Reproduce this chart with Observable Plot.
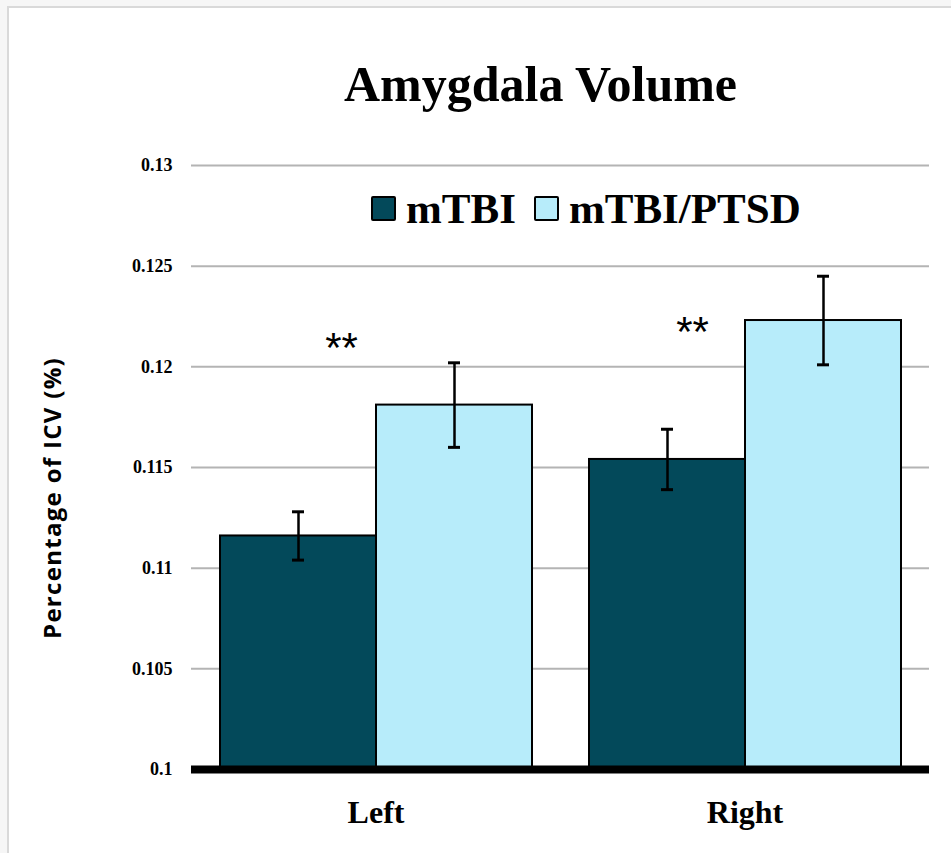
<!DOCTYPE html>
<html>
<head>
<meta charset="utf-8">
<script src="https://cdn.jsdelivr.net/npm/d3@7"></script>
<script src="https://cdn.jsdelivr.net/npm/@observablehq/plot@0.6"></script>
<style>
  html, body { margin: 0; padding: 0; background: #f6f6f6; }
  #page { position: relative; width: 951px; height: 853px; overflow: hidden; }
  #sheet { position: absolute; left: 7px; top: 6px; width: 960px; height: 900px; background: #fff;
           border-left: 2px solid #d9d9d9; border-top: 2px solid #d9d9d9; }
  #title { position: absolute; left: 0; width: 951px; top: 55px; text-align: center; padding-left: 130px; box-sizing: border-box;
           font-family: "Liberation Serif", serif; font-weight: bold; font-size: 50px; color: #000; }
  #ylabel { position: absolute; left: 51px; top: 498px; transform: translate(-50%, -50%) rotate(-90deg);
            font-family: "Open Sans", "Liberation Sans", Arial, sans-serif; font-weight: bold; font-size: 24px; letter-spacing: 1.3px; white-space: nowrap; color: #000; }
  .layer { position: absolute; left: 0; top: 130px; }
  .layer svg { display: block; }
  #legend { position: absolute; left: 371px; top: 184px; display: flex; align-items: center;
            font-family: "Liberation Serif", serif; font-weight: bold; font-size: 43px; color: #000; }
  .sw { width: 21px; height: 21px; border: 2px solid #000; border-radius: 2px; display: inline-block; margin-right: 10px; }
  .item { display: flex; align-items: center; margin-right: 18px; }
</style>
</head>
<body>
<div id="page">
  <div id="sheet"></div>
  <div id="title">Amygdala Volume</div>
  <div id="ylabel">Percentage of ICV (%)</div>
  <div id="back" class="layer"></div>
  <div id="main" class="layer"></div>
  <div id="front" class="layer"></div>
  <div id="legend"></div>
</div>
<script>
const sides = ["Left", "Right"];
const groups = ["mTBI", "mTBI/PTSD"];
const colors = ["#03495a", "#b7ecfa"];
const leftMeans = [0.1116, 0.1181];
const leftErrors = [0.0012, 0.0021];
const rightMeans = [0.1154, 0.1223];
const rightErrors = [0.0015, 0.0022];
const yTicks = [0.1, 0.105, 0.11, 0.115, 0.12, 0.125, 0.13];
const yTickLabels = ["0.1", "0.105", "0.11", "0.115", "0.12", "0.125", "0.13"];
const starSides = ["Left", "Right"];
const starY = [0.1209, 0.1217];

const data = [];
groups.forEach((g, i) => data.push({side: "Left", group: g, mean: leftMeans[i], err: leftErrors[i]}));
groups.forEach((g, i) => data.push({side: "Right", group: g, mean: rightMeans[i], err: rightErrors[i]}));
const stars = starSides.map((s, i) => ({side: s, group: "mTBI", y: starY[i], text: "**"}));
const tickData = yTicks.map((v, i) => ({v, label: yTickLabels[i]}));

const common = {
  width: 951,
  height: 719,
  marginTop: 35,
  marginBottom: 80,
  marginLeft: 191,
  marginRight: 22,
  style: {background: "transparent", fontFamily: "Liberation Serif, serif", color: "#000", overflow: "visible"},
  y: {domain: [0.1, 0.13], axis: null}
};

const back = Plot.plot({
  ...common,
  marks: [
    Plot.ruleY(yTicks.slice(1), {y: d => d, stroke: "#b4b4b4", strokeWidth: 2}),
    Plot.text(tickData, {y: "v", text: "label", frameAnchor: "left", textAnchor: "end", dx: -19,
      fontSize: 18, fontWeight: "bold", fill: "#000"})
  ]
});

const main = Plot.plot({
  ...common,
  fx: {domain: sides, paddingInner: 0.152, paddingOuter: 0.076, axis: null, label: null},
  x: {domain: groups, padding: 0, axis: null},
  color: {domain: groups, range: colors},
  marks: [
    Plot.barY(data, {fx: "side", x: "group", y1: 0.1, y2: "mean", fill: "group", stroke: "#000", strokeWidth: 2}),
    Plot.ruleX(data, {fx: "side", x: "group", y1: d => d.mean - d.err, y2: d => d.mean + d.err, stroke: "#000", strokeWidth: 2.5}),
    Plot.tickY(data, {fx: "side", x: "group", y: d => d.mean - d.err, insetLeft: 72, insetRight: 72, stroke: "#000", strokeWidth: 3}),
    Plot.tickY(data, {fx: "side", x: "group", y: d => d.mean + d.err, insetLeft: 72, insetRight: 72, stroke: "#000", strokeWidth: 3}),
    Plot.text(stars.filter(d => d.side === "Left"), {fx: "side", x: "group", y: "y", text: "text", dx: 43,
      fontSize: 42, fontFamily: "Liberation Sans, Arial, sans-serif", fill: "#000"}),
    Plot.text(stars.filter(d => d.side === "Right"), {fx: "side", x: "group", y: "y", text: "text", dx: 25,
      fontSize: 42, fontFamily: "Liberation Sans, Arial, sans-serif", fill: "#000"}),
    Plot.axisFx({anchor: "bottom", tickSize: 0, tickPadding: 31, fontSize: 32, fontWeight: "bold", label: null})
  ]
});

const front = Plot.plot({
  ...common,
  marks: [
    Plot.ruleY([0.1], {y: d => d, stroke: "#000", strokeWidth: 8})
  ]
});

document.getElementById("back").appendChild(back);
document.getElementById("main").appendChild(main);
document.getElementById("front").appendChild(front);

const legend = document.getElementById("legend");
groups.forEach((g, i) => {
  const item = document.createElement("div");
  item.className = "item";
  const sw = document.createElement("span");
  sw.className = "sw";
  sw.style.background = colors[i];
  item.appendChild(sw);
  item.appendChild(document.createTextNode(g));
  legend.appendChild(item);
});
</script>
</body>
</html>
